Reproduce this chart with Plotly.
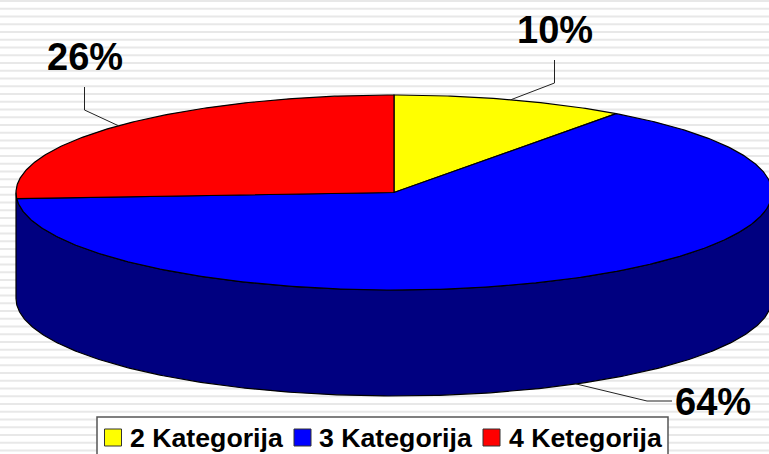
import numpy as np
import plotly.graph_objects as go

# --- data ---
categories = ["2 Kategorija", "3 Kategorija", "4 Ketegorija"]
values = [10, 64, 26]
labels = ["10%", "64%", "26%"]
top_colors = ["#ffff00", "#0000ff", "#ff0000"]
wall_color = "#000080"

# --- geometry (pixel-like data units) ---
W, H = 769, 454
cx, cy, rx, ry, depth = 394, 192.5, 378, 97.5, 106
label_pos = [(555, 30), (713, 402), (85, 57)]
elbow = [[(554.5, 60), (554.5, 83)], [(672, 401), (647, 401)], [(84.5, 87), (84.5, 110)]]
swatch_x = [113, 302.5, 491.5]
text_x = [130, 319, 509]
legend_box = (97, 417, 668, 460)
FONT = "Liberation Sans, Arial, sans-serif"


def ell(a_deg, dy=0.0):
    a = np.radians(a_deg)
    return cx + rx * np.sin(a), cy - ry * np.cos(a) + dy


fig = go.Figure()

# wall (visible front half)
a = np.linspace(90, 270, 300)
x1, y1 = ell(a)
x2, y2 = ell(a[::-1], depth)
fig.add_trace(go.Scatter(x=np.r_[x1, x2, x1[0]], y=np.r_[y1, y2, y1[0]], mode="lines",
                         fill="toself", fillcolor=wall_color,
                         line=dict(color="#000000", width=1.2), hoverinfo="skip", showlegend=False))

# top slices
start = 0.0
mids = []
for name, v, c in zip(categories, values, top_colors):
    sweep = 360.0 * v / sum(values)
    a = np.linspace(start, start + sweep, max(int(sweep * 2), 8))
    x, y = ell(a)
    fig.add_trace(go.Scatter(x=np.r_[cx, x, cx], y=np.r_[cy, y, cy], mode="lines",
                             fill="toself", fillcolor=c, name=name,
                             line=dict(color="#000000", width=1.2), showlegend=False))
    mids.append(start + sweep / 2)
    start += sweep

# leader lines
for m, e in zip(mids, elbow):
    ax, ay = ell(m, depth if 90 < m < 270 else 0)
    fig.add_trace(go.Scatter(x=[e[0][0], e[1][0], ax], y=[e[0][1], e[1][1], ay], mode="lines",
                             line=dict(color="#222222", width=1), hoverinfo="skip", showlegend=False))

# legend swatches
fig.add_trace(go.Scatter(x=swatch_x, y=[437.5] * 3, mode="markers",
                         marker=dict(symbol="square", size=17, color=top_colors,
                                     line=dict(color="#333333", width=1)),
                         hoverinfo="skip", showlegend=False))

# background stripes + legend box
shapes = []
y = 1.0
while y < H:
    shapes.append(dict(type="rect", layer="below", x0=0, x1=W, y0=y - 1, y1=y + 1,
                       fillcolor="#e8e8e8", line=dict(width=0)))
    y += 7.75
shapes.append(dict(type="rect", layer="below", x0=legend_box[0], y0=legend_box[1],
                   x1=legend_box[2], y1=legend_box[3], fillcolor="#ffffff",
                   line=dict(color="#555555", width=1.5)))

ann = []
for t, (x, y) in zip(labels, label_pos):
    ann.append(dict(x=x, y=y, text=f"<b>{t}</b>", showarrow=False, xanchor="center", yanchor="middle",
                    font=dict(family=FONT, size=38, color="#000000")))
for t, x in zip(categories, text_x):
    ann.append(dict(x=x, y=438, text=f"<b>{t}</b>", showarrow=False, xanchor="left", yanchor="middle",
                    xshift=-2, font=dict(family=FONT, size=26.7, color="#000000")))

fig.update_layout(width=W, height=H, margin=dict(l=0, r=0, t=0, b=0),
                  paper_bgcolor="#ffffff", plot_bgcolor="#ffffff",
                  xaxis=dict(range=[0, W], visible=False, fixedrange=True),
                  yaxis=dict(range=[H, 0], visible=False, fixedrange=True),
                  shapes=shapes, annotations=ann, showlegend=False)
fig.write_html("out.html", config=dict(displayModeBar=False),
               post_script="document.body.style.margin='0';document.body.style.overflow='hidden';")
